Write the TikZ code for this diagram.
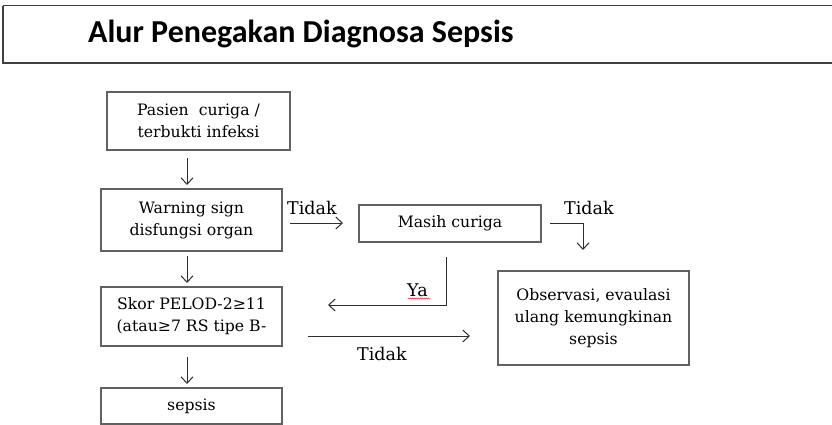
\documentclass[tikz,border=0pt]{standalone}
\usepackage{fontspec}
\setmainfont{DejaVu Serif}
\newfontfamily\titlefont{Carlito}
\usetikzlibrary{arrows.meta,decorations.pathmorphing}
\begin{document}
\begin{tikzpicture}[x=1pt,y=-1pt,
  box/.style={draw=black!62,line width=1.1pt,inner sep=0pt,align=center,
    font=\fontsize{15.7}{22}\selectfont},
  flow/.style={draw=black!82,line width=1pt,-{Straight Barb[length=6.5pt,width=12pt,line width=1pt]}},
  lbl/.style={font=\fontsize{17.5}{20}\selectfont,inner sep=0pt}]
\useasboundingbox (0,0) rectangle (832,425);
% title bar
\draw[draw=black!75,line width=1.2pt] (3,6) -- (3,63) -- (840,63);
\draw[draw=black!75,line width=1pt] (3,6) -- (840,6);
\node[anchor=base west,inner sep=0pt,font=\titlefont\bfseries\fontsize{32}{36}\selectfont] (title) at (88,43) {Alur Penegakan Diagnosa Sepsis};
% boxes
\node[box,minimum width=183pt,minimum height=58pt] (pasien) at (198.5,121) {Pasien\ \ curiga /\\terbukti infeksi};
\node[box,minimum width=181pt,minimum height=62pt] (warning) at (191.5,220) {Warning sign\\disfungsi organ};
\node[box,minimum width=181pt,minimum height=59pt] (skor) at (191.5,316.5) {Skor PELOD-2≥11\\(atau≥7 RS tipe B-};
\node[box,minimum width=181pt,minimum height=36pt] (sepsis) at (191.5,406) {sepsis};
\node[box,minimum width=182pt,minimum height=37pt] (masih) at (450,223.5) {Masih curiga};
\node[box,minimum width=191pt,minimum height=94pt] (obs) at (593.5,318) {Observasi, evaulasi\\ulang kemungkinan\\sepsis};
% connectors
\coordinate (a1) at (187,158); \coordinate (a2) at (187,185);
\draw[flow] (a1) -- (a2);
\coordinate (b1) at (187,256); \coordinate (b2) at (187,283);
\draw[flow] (b1) -- (b2);
\coordinate (c1) at (187,357); \coordinate (c2) at (187,384);
\draw[flow] (c1) -- (c2);
\coordinate (d1) at (290,223); \coordinate (d2) at (343,223);
\draw[flow] (d1) -- (d2);
\node[lbl,anchor=base west] (t1) at (287,214) {Tidak};
\coordinate (e1) at (550,223); \coordinate (e2) at (583,250);
\draw[flow] (e1) -| (e2);
\node[lbl,anchor=base west] (t2) at (564,214) {Tidak};
\coordinate (f1) at (446,257); \coordinate (f2) at (328,305);
\draw[flow] (f1) |- (f2);
\node[lbl,anchor=base west] (ya) at (407,296) {Ya};
\draw[red!80,line width=0.5pt,decorate,decoration={zigzag,amplitude=0.6pt,segment length=2pt}] (408,298.5) -- (430,298.5);
\coordinate (g1) at (308,336); \coordinate (g2) at (470,336);
\draw[flow] (g1) -- (g2);
\node[lbl,anchor=base west] (t3) at (357,360) {Tidak};
\end{tikzpicture}
\end{document}
